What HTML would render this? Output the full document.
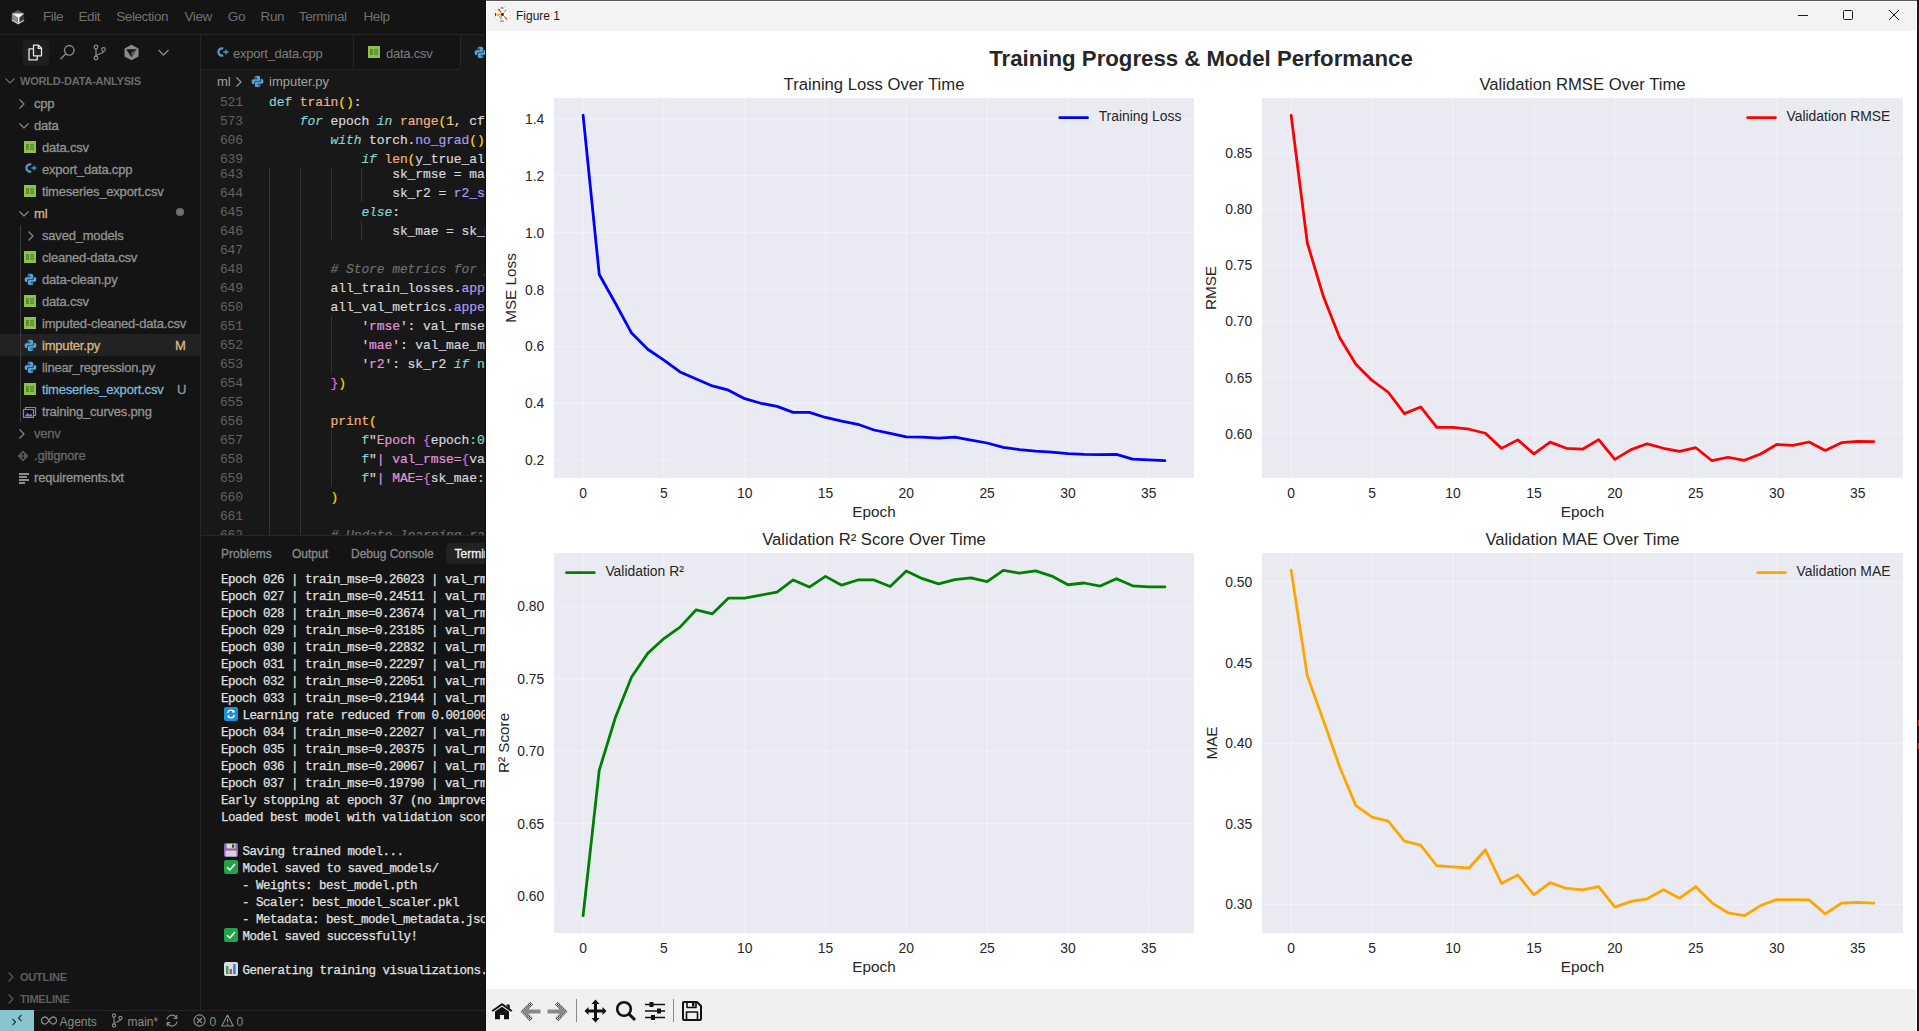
<!DOCTYPE html>
<html><head><meta charset="utf-8"><title>Figure 1</title><style>
*{box-sizing:content-box}
html,body{margin:0;padding:0}
body{width:1919px;height:1031px;overflow:hidden;position:relative;background:#141414;font-family:'Liberation Sans',sans-serif}
.abs{position:absolute}
.ic{position:absolute;overflow:visible}
.menu{position:absolute;top:8.4px;font-size:13.5px;letter-spacing:-0.4px;line-height:17px;color:#707070;white-space:nowrap}
.hdr{position:absolute;font-size:11px;font-weight:bold;line-height:14px;color:#6a6a6a;white-space:nowrap;letter-spacing:-0.2px}
.tree{position:absolute;font-size:13px;letter-spacing:-0.2px;-webkit-text-stroke:0.3px;line-height:22px;white-space:nowrap}
.tab{position:absolute;top:45px;font-size:13px;letter-spacing:-0.25px;line-height:17px;color:#7d7d7d;white-space:nowrap}
.crumb{position:absolute;top:72.5px;font-size:13px;letter-spacing:0px;line-height:18px;color:#a0a0a0;white-space:nowrap}
.ln{position:absolute;left:201px;width:42px;text-align:right;font-family:'Liberation Mono',monospace;font-size:13px;line-height:19px;color:#626262;letter-spacing:-0.1px}
.code{position:absolute;font-family:'Liberation Mono',monospace;font-size:13px;line-height:19px;white-space:pre;letter-spacing:-0.1px;-webkit-text-stroke:0.2px}
.ptab{position:absolute;top:546px;font-size:12px;line-height:17px;color:#8a8a8a;white-space:nowrap;-webkit-text-stroke:0.3px}
.term{position:absolute;font-family:'Liberation Mono',monospace;font-size:12.5px;line-height:17px;color:#e0e0e0;white-space:pre;letter-spacing:-0.5px;-webkit-text-stroke:0.25px}
.sb{position:absolute;top:1013.5px;font-size:12px;line-height:16px;color:#8b8b8b;white-space:nowrap}
</style></head>
<body>
<div class="abs" style="left:0;top:0;width:485px;height:34px;background:#141414"></div>
<div class="abs" style="left:0;top:34px;width:485px;height:1px;background:#262626"></div>
<svg class="ic" style="left:6px;top:5px" width="24" height="24" viewBox="0 0 24 24"><path d="M11.6 4.9 L18.1 8.4 L12.6 11.8 L5.8 8.4 Z" fill="#5e5e5e"/><path d="M5.8 8.4 L12.6 11.8 L12.4 18.8 L5.8 15.3 Z" fill="#8c8c8c"/><path d="M18.1 8.4 L18.1 15.3 L12.4 18.8 L12.6 11.8 Z" fill="#3a3a3a"/><path d="M5.8 8.4 L18.1 8.4 L13.4 12.6 L13.4 18.5 L12 18.7 L12 12.4 Z" fill="#f2f2f2"/><path d="M5.8 15.3 L12.2 18.8 L18.1 15.3" fill="none" stroke="#c8c8c8" stroke-width="1.2"/></svg>
<div class="menu" style="left:43px">File</div>
<div class="menu" style="left:78.5px">Edit</div>
<div class="menu" style="left:116.2px">Selection</div>
<div class="menu" style="left:184.5px">View</div>
<div class="menu" style="left:227.8px">Go</div>
<div class="menu" style="left:260.6px">Run</div>
<div class="menu" style="left:298.8px">Terminal</div>
<div class="menu" style="left:363.5px">Help</div>
<div class="abs" style="left:200px;top:35px;width:1px;height:975px;background:#262626"></div>
<div class="abs" style="left:23px;top:40px;width:26px;height:26px;background:#1f1f1f;border-radius:4px"></div>
<svg class="ic" style="left:27px;top:44px" width="17" height="17" viewBox="0 0 17 17" fill="none" stroke="#e6e6e6" stroke-width="1.3"><path d="M6.5 1.2 H11.5 L14.5 4.2 V11.8 H6.5 Z"/><path d="M11.3 1.2 V4.4 H14.5"/><path d="M6.5 4.8 H2 V15.8 H10.2 V11.8"/></svg>
<svg class="ic" style="left:59px;top:44px" width="17" height="17" viewBox="0 0 17 17" fill="none" stroke="#8b8b8b" stroke-width="1.3"><circle cx="10.3" cy="6.3" r="4.8"/><path d="M6.8 9.8 L1.5 15.3"/></svg>
<svg class="ic" style="left:92px;top:44px" width="15" height="17" viewBox="0 0 15 17" fill="none" stroke="#8b8b8b" stroke-width="1.2"><circle cx="4" cy="3" r="1.8"/><circle cx="4" cy="14" r="1.8"/><circle cx="11.5" cy="5.5" r="1.8"/><path d="M4 4.8 V12.2"/><path d="M11.5 7.3 C11.5 10 4.5 9.5 4 12.2"/></svg>
<svg class="ic" style="left:123px;top:44px" width="17" height="17" viewBox="0 0 17 17"><path d="M8.5 0.8 L15.5 4.6 V12.4 L8.5 16.2 L1.5 12.4 V4.6 Z" fill="#8b8b8b"/><path d="M3.2 5.2 L13.8 5.2 L8.5 13.6 Z" fill="#141414"/><path d="M8.5 8.2 L13.8 5.2 L8.5 13.6 Z" fill="#5a5a5a"/></svg>
<svg class="ic" style="left:157px;top:48px" width="13" height="9" viewBox="0 0 13 9"><path d="M1.5 2 L6.5 7 L11.5 2" fill="none" stroke="#8b8b8b" stroke-width="1.2"/></svg>
<svg class="ic" style="left:2px;top:76px" width="16" height="10" viewBox="0 0 16 10"><path d="M3.5 2.5 L8 7 L12.5 2.5" fill="none" stroke="#6e6e6e" stroke-width="1.1"/></svg>
<div class="hdr" style="left:20px;top:74px">WORLD-DATA-ANLYSIS</div>
<div class="abs" style="left:0;top:334px;width:200px;height:22px;background:#222222"></div>
<div class="abs" style="left:20px;top:225px;width:1px;height:197px;background:#3a3a3a"></div>
<svg class="ic" style="left:17px;top:95.6px" width="10" height="16" viewBox="0 0 10 16"><path d="M2.5 3.5 L7 8 L2.5 12.5" fill="none" stroke="#8b8b8b" stroke-width="1.1"/></svg>
<div class="tree" style="left:34px;top:92.6px;color:#939393">cpp</div>
<svg class="ic" style="left:16px;top:120.6px" width="16" height="10" viewBox="0 0 16 10"><path d="M3.5 2.5 L8 7 L12.5 2.5" fill="none" stroke="#8b8b8b" stroke-width="1.1"/></svg>
<div class="tree" style="left:34px;top:114.6px;color:#939393">data</div>
<svg class="ic" style="left:24px;top:140.79999999999998px" width="12" height="12" viewBox="0 0 12 12"><rect width="12" height="12" fill="#8dc149"/><rect x="2" y="3" width="3" height="6" fill="#5f8f2f"/><rect x="6" y="3" width="4" height="1.6" fill="#5f8f2f"/><rect x="6" y="5.2" width="4" height="1.6" fill="#5f8f2f"/><rect x="6" y="7.4" width="4" height="1.6" fill="#5f8f2f"/></svg>
<div class="tree" style="left:42px;top:136.6px;color:#939393">data.csv</div>
<svg class="ic" style="left:24px;top:162.4px" width="13" height="12" viewBox="0 0 13 12"><path d="M7.2 2.6 A3.6 3.6 0 1 0 7.2 9.4" fill="none" stroke="#519aba" stroke-width="2.4"/><path d="M7.4 6 H12.6 M10 3.6 V8.4" stroke="#519aba" stroke-width="1.3"/></svg>
<div class="tree" style="left:42px;top:158.6px;color:#939393">export_data.cpp</div>
<svg class="ic" style="left:24px;top:184.79999999999998px" width="12" height="12" viewBox="0 0 12 12"><rect width="12" height="12" fill="#8dc149"/><rect x="2" y="3" width="3" height="6" fill="#5f8f2f"/><rect x="6" y="3" width="4" height="1.6" fill="#5f8f2f"/><rect x="6" y="5.2" width="4" height="1.6" fill="#5f8f2f"/><rect x="6" y="7.4" width="4" height="1.6" fill="#5f8f2f"/></svg>
<div class="tree" style="left:42px;top:180.6px;color:#939393">timeseries_export.csv</div>
<svg class="ic" style="left:16px;top:208.6px" width="16" height="10" viewBox="0 0 16 10"><path d="M3.5 2.5 L8 7 L12.5 2.5" fill="none" stroke="#8b8b8b" stroke-width="1.1"/></svg>
<div class="tree" style="left:34px;top:202.6px;color:#d9b683">ml</div>
<svg class="ic" style="left:175px;top:207.0px" width="10" height="10" viewBox="0 0 10 10"><circle cx="5" cy="5" r="4.1" fill="#6b6b6b"/><circle cx="4.4" cy="4.5" r="0.7" fill="#c07a10"/><circle cx="6.4" cy="4.5" r="0.7" fill="#c07a10"/><circle cx="4.4" cy="6.5" r="0.7" fill="#c07a10"/><circle cx="7.4" cy="6.5" r="0.7" fill="#c07a10"/></svg>
<svg class="ic" style="left:26px;top:227.6px" width="10" height="16" viewBox="0 0 10 16"><path d="M2.5 3.5 L7 8 L2.5 12.5" fill="none" stroke="#8b8b8b" stroke-width="1.1"/></svg>
<div class="tree" style="left:42px;top:224.6px;color:#939393">saved_models</div>
<svg class="ic" style="left:24px;top:250.8px" width="12" height="12" viewBox="0 0 12 12"><rect width="12" height="12" fill="#8dc149"/><rect x="2" y="3" width="3" height="6" fill="#5f8f2f"/><rect x="6" y="3" width="4" height="1.6" fill="#5f8f2f"/><rect x="6" y="5.2" width="4" height="1.6" fill="#5f8f2f"/><rect x="6" y="7.4" width="4" height="1.6" fill="#5f8f2f"/></svg>
<div class="tree" style="left:42px;top:246.60000000000002px;color:#939393">cleaned-data.csv</div>
<svg class="ic" style="left:23.5px;top:273.1px" width="13" height="13" viewBox="0 0 13 13"><path d="M6.2 0.8 C3.6 0.8 3.7 1.9 3.7 1.9 V3.6 H6.4 V4.2 H2.4 C2.4 4.2 0.6 4 0.6 6.6 C0.6 9.2 2.2 9.1 2.2 9.1 H3.2 V7.8 C3.2 7.8 3.1 6.2 4.8 6.2 H7.6 C7.6 6.2 9.2 6.2 9.2 4.7 V2.2 C9.2 2.2 9.4 0.8 6.2 0.8 Z" fill="#58a2d6"/><path d="M6.8 12.2 C9.4 12.2 9.3 11.1 9.3 11.1 V9.4 H6.6 V8.8 H10.6 C10.6 8.8 12.4 9 12.4 6.4 C12.4 3.8 10.8 3.9 10.8 3.9 H9.8 V5.2 C9.8 5.2 9.9 6.8 8.2 6.8 H5.4 C5.4 6.8 3.8 6.8 3.8 8.3 V10.8 C3.8 10.8 3.6 12.2 6.8 12.2 Z" fill="#58a2d6"/><circle cx="5" cy="2.2" r="0.6" fill="#141414"/><circle cx="8" cy="10.8" r="0.6" fill="#141414"/></svg>
<div class="tree" style="left:42px;top:268.6px;color:#939393">data-clean.py</div>
<svg class="ic" style="left:24px;top:294.8px" width="12" height="12" viewBox="0 0 12 12"><rect width="12" height="12" fill="#8dc149"/><rect x="2" y="3" width="3" height="6" fill="#5f8f2f"/><rect x="6" y="3" width="4" height="1.6" fill="#5f8f2f"/><rect x="6" y="5.2" width="4" height="1.6" fill="#5f8f2f"/><rect x="6" y="7.4" width="4" height="1.6" fill="#5f8f2f"/></svg>
<div class="tree" style="left:42px;top:290.6px;color:#939393">data.csv</div>
<svg class="ic" style="left:24px;top:316.8px" width="12" height="12" viewBox="0 0 12 12"><rect width="12" height="12" fill="#8dc149"/><rect x="2" y="3" width="3" height="6" fill="#5f8f2f"/><rect x="6" y="3" width="4" height="1.6" fill="#5f8f2f"/><rect x="6" y="5.2" width="4" height="1.6" fill="#5f8f2f"/><rect x="6" y="7.4" width="4" height="1.6" fill="#5f8f2f"/></svg>
<div class="tree" style="left:42px;top:312.6px;color:#939393">imputed-cleaned-data.csv</div>
<svg class="ic" style="left:23.5px;top:339.1px" width="13" height="13" viewBox="0 0 13 13"><path d="M6.2 0.8 C3.6 0.8 3.7 1.9 3.7 1.9 V3.6 H6.4 V4.2 H2.4 C2.4 4.2 0.6 4 0.6 6.6 C0.6 9.2 2.2 9.1 2.2 9.1 H3.2 V7.8 C3.2 7.8 3.1 6.2 4.8 6.2 H7.6 C7.6 6.2 9.2 6.2 9.2 4.7 V2.2 C9.2 2.2 9.4 0.8 6.2 0.8 Z" fill="#58a2d6"/><path d="M6.8 12.2 C9.4 12.2 9.3 11.1 9.3 11.1 V9.4 H6.6 V8.8 H10.6 C10.6 8.8 12.4 9 12.4 6.4 C12.4 3.8 10.8 3.9 10.8 3.9 H9.8 V5.2 C9.8 5.2 9.9 6.8 8.2 6.8 H5.4 C5.4 6.8 3.8 6.8 3.8 8.3 V10.8 C3.8 10.8 3.6 12.2 6.8 12.2 Z" fill="#58a2d6"/><circle cx="5" cy="2.2" r="0.6" fill="#141414"/><circle cx="8" cy="10.8" r="0.6" fill="#141414"/></svg>
<div class="tree" style="left:42px;top:334.6px;color:#d9b683">imputer.py</div>
<div class="tree" style="left:175px;top:334.6px;color:#d9b683">M</div>
<svg class="ic" style="left:23.5px;top:361.1px" width="13" height="13" viewBox="0 0 13 13"><path d="M6.2 0.8 C3.6 0.8 3.7 1.9 3.7 1.9 V3.6 H6.4 V4.2 H2.4 C2.4 4.2 0.6 4 0.6 6.6 C0.6 9.2 2.2 9.1 2.2 9.1 H3.2 V7.8 C3.2 7.8 3.1 6.2 4.8 6.2 H7.6 C7.6 6.2 9.2 6.2 9.2 4.7 V2.2 C9.2 2.2 9.4 0.8 6.2 0.8 Z" fill="#58a2d6"/><path d="M6.8 12.2 C9.4 12.2 9.3 11.1 9.3 11.1 V9.4 H6.6 V8.8 H10.6 C10.6 8.8 12.4 9 12.4 6.4 C12.4 3.8 10.8 3.9 10.8 3.9 H9.8 V5.2 C9.8 5.2 9.9 6.8 8.2 6.8 H5.4 C5.4 6.8 3.8 6.8 3.8 8.3 V10.8 C3.8 10.8 3.6 12.2 6.8 12.2 Z" fill="#58a2d6"/><circle cx="5" cy="2.2" r="0.6" fill="#141414"/><circle cx="8" cy="10.8" r="0.6" fill="#141414"/></svg>
<div class="tree" style="left:42px;top:356.6px;color:#939393">linear_regression.py</div>
<svg class="ic" style="left:24px;top:382.8px" width="12" height="12" viewBox="0 0 12 12"><rect width="12" height="12" fill="#8dc149"/><rect x="2" y="3" width="3" height="6" fill="#5f8f2f"/><rect x="6" y="3" width="4" height="1.6" fill="#5f8f2f"/><rect x="6" y="5.2" width="4" height="1.6" fill="#5f8f2f"/><rect x="6" y="7.4" width="4" height="1.6" fill="#5f8f2f"/></svg>
<div class="tree" style="left:42px;top:378.6px;color:#7cb8d6">timeseries_export.csv</div>
<div class="tree" style="left:177px;top:378.6px;color:#8e9aa3">U</div>
<svg class="ic" style="left:23px;top:405.6px" width="13" height="12" viewBox="0 0 13 12"><rect x="2.5" y="1.5" width="10" height="8" fill="none" stroke="#a074c4" stroke-width="1.2"/><rect x="0.5" y="3.5" width="10" height="8" fill="#141414" stroke="#a074c4" stroke-width="1.2"/><path d="M1.5 10.5 L4.5 7 L6.5 9 L8 7.5 L9.8 10.5 Z" fill="#a074c4"/></svg>
<div class="tree" style="left:42px;top:400.6px;color:#939393">training_curves.png</div>
<svg class="ic" style="left:17px;top:425.6px" width="10" height="16" viewBox="0 0 10 16"><path d="M2.5 3.5 L7 8 L2.5 12.5" fill="none" stroke="#8b8b8b" stroke-width="1.1"/></svg>
<div class="tree" style="left:34px;top:422.6px;color:#676767">venv</div>
<svg class="ic" style="left:17px;top:449.6px" width="12" height="12" viewBox="0 0 12 12"><path d="M6 0.6 L11.4 6 L6 11.4 L0.6 6 Z" fill="#5a5a5a"/><circle cx="6" cy="4" r="1.1" fill="#141414"/><circle cx="6" cy="8" r="1.1" fill="#141414"/><path d="M6 4 V8" stroke="#141414" stroke-width="0.9"/></svg>
<div class="tree" style="left:34px;top:444.6px;color:#676767">.gitignore</div>
<svg class="ic" style="left:17.5px;top:471.6px" width="12" height="12" viewBox="0 0 12 12"><path d="M1 2 H11 M1 5 H9 M1 8 H11 M1 11 H7" stroke="#b8b8b8" stroke-width="1.5"/></svg>
<div class="tree" style="left:34px;top:466.6px;color:#939393">requirements.txt</div>
<svg class="ic" style="left:6px;top:969px" width="10" height="16" viewBox="0 0 10 16"><path d="M2.5 3.5 L7 8 L2.5 12.5" fill="none" stroke="#5e5e5e" stroke-width="1.1"/></svg>
<div class="hdr" style="left:20px;top:970px;color:#5e5e5e">OUTLINE</div>
<svg class="ic" style="left:6px;top:991px" width="10" height="16" viewBox="0 0 10 16"><path d="M2.5 3.5 L7 8 L2.5 12.5" fill="none" stroke="#5e5e5e" stroke-width="1.1"/></svg>
<div class="hdr" style="left:20px;top:992px;color:#5e5e5e">TIMELINE</div>
<div class="abs" style="left:201px;top:35px;width:284px;height:34px;background:#141414"></div>
<div class="abs" style="left:201px;top:69px;width:259px;height:1px;background:#262626"></div>
<div class="abs" style="left:353px;top:35px;width:1px;height:34px;background:#262626"></div>
<div class="abs" style="left:460px;top:35px;width:1px;height:34px;background:#262626"></div>
<div class="abs" style="left:461px;top:35px;width:24px;height:35px;background:#181818"></div>
<svg class="ic" style="left:216px;top:46px" width="13" height="12" viewBox="0 0 13 12"><path d="M7.2 2.6 A3.6 3.6 0 1 0 7.2 9.4" fill="none" stroke="#519aba" stroke-width="2.4"/><path d="M7.4 6 H12.6 M10 3.6 V8.4" stroke="#519aba" stroke-width="1.3"/></svg>
<div class="tab" style="left:233px">export_data.cpp</div>
<svg class="ic" style="left:368px;top:46px" width="12" height="12" viewBox="0 0 12 12"><rect width="12" height="12" fill="#8dc149"/><rect x="2" y="3" width="3" height="6" fill="#5f8f2f"/><rect x="6" y="3" width="4" height="1.6" fill="#5f8f2f"/><rect x="6" y="5.2" width="4" height="1.6" fill="#5f8f2f"/><rect x="6" y="7.4" width="4" height="1.6" fill="#5f8f2f"/></svg>
<div class="tab" style="left:386px">data.csv</div>
<svg class="ic" style="left:474px;top:45.5px" width="13" height="13" viewBox="0 0 13 13"><path d="M6.2 0.8 C3.6 0.8 3.7 1.9 3.7 1.9 V3.6 H6.4 V4.2 H2.4 C2.4 4.2 0.6 4 0.6 6.6 C0.6 9.2 2.2 9.1 2.2 9.1 H3.2 V7.8 C3.2 7.8 3.1 6.2 4.8 6.2 H7.6 C7.6 6.2 9.2 6.2 9.2 4.7 V2.2 C9.2 2.2 9.4 0.8 6.2 0.8 Z" fill="#58a2d6"/><path d="M6.8 12.2 C9.4 12.2 9.3 11.1 9.3 11.1 V9.4 H6.6 V8.8 H10.6 C10.6 8.8 12.4 9 12.4 6.4 C12.4 3.8 10.8 3.9 10.8 3.9 H9.8 V5.2 C9.8 5.2 9.9 6.8 8.2 6.8 H5.4 C5.4 6.8 3.8 6.8 3.8 8.3 V10.8 C3.8 10.8 3.6 12.2 6.8 12.2 Z" fill="#58a2d6"/><circle cx="5" cy="2.2" r="0.6" fill="#141414"/><circle cx="8" cy="10.8" r="0.6" fill="#141414"/></svg>
<div class="abs" style="left:201px;top:70px;width:284px;height:465px;background:#181818"></div>
<div class="crumb" style="left:217px">ml</div>
<svg class="ic" style="left:234px;top:73.5px" width="10" height="16" viewBox="0 0 10 16"><path d="M2.5 3.5 L7 8 L2.5 12.5" fill="none" stroke="#9a9a9a" stroke-width="1.1"/></svg>
<svg class="ic" style="left:251px;top:75px" width="13" height="13" viewBox="0 0 13 13"><path d="M6.2 0.8 C3.6 0.8 3.7 1.9 3.7 1.9 V3.6 H6.4 V4.2 H2.4 C2.4 4.2 0.6 4 0.6 6.6 C0.6 9.2 2.2 9.1 2.2 9.1 H3.2 V7.8 C3.2 7.8 3.1 6.2 4.8 6.2 H7.6 C7.6 6.2 9.2 6.2 9.2 4.7 V2.2 C9.2 2.2 9.4 0.8 6.2 0.8 Z" fill="#58a2d6"/><path d="M6.8 12.2 C9.4 12.2 9.3 11.1 9.3 11.1 V9.4 H6.6 V8.8 H10.6 C10.6 8.8 12.4 9 12.4 6.4 C12.4 3.8 10.8 3.9 10.8 3.9 H9.8 V5.2 C9.8 5.2 9.9 6.8 8.2 6.8 H5.4 C5.4 6.8 3.8 6.8 3.8 8.3 V10.8 C3.8 10.8 3.6 12.2 6.8 12.2 Z" fill="#58a2d6"/><circle cx="5" cy="2.2" r="0.6" fill="#141414"/><circle cx="8" cy="10.8" r="0.6" fill="#141414"/></svg>
<div class="crumb" style="left:269px">imputer.py</div>
<div class="abs" style="left:269px;top:168px;width:1px;height:367px;background:#333333"></div>
<div class="abs" style="left:300px;top:168px;width:1px;height:367px;background:#333333"></div>
<div class="abs" style="left:331px;top:168px;width:1px;height:72px;background:#333333"></div>
<div class="abs" style="left:361px;top:168px;width:1px;height:34px;background:#333333"></div>
<div class="abs" style="left:361px;top:221px;width:1px;height:19px;background:#333333"></div>
<div class="abs" style="left:331px;top:316px;width:1px;height:57px;background:#333333"></div>
<div class="abs" style="left:331px;top:430px;width:1px;height:57px;background:#333333"></div>
<div class="ln" style="top:165.0px">643</div>
<div class="code" style="left:392.2px;top:165.0px"><span style="color:#d6d6dd">sk_rmse</span><span style="color:#d6d6dd"> = </span><span style="color:#d6d6dd">math.sqrt(mean_squared_error</span></div>
<div class="ln" style="top:184.0px">644</div>
<div class="code" style="left:392.2px;top:184.0px"><span style="color:#d6d6dd">sk_r2</span><span style="color:#d6d6dd"> = </span><span style="color:#aa9bf5">r2_score</span><span style="color:#da70d6">(</span></div>
<div class="ln" style="top:203.0px">645</div>
<div class="code" style="left:361.4px;top:203.0px"><span style="color:#82d2ce;font-style:italic">else</span><span style="color:#d6d6dd">:</span></div>
<div class="ln" style="top:222.0px">646</div>
<div class="code" style="left:392.2px;top:222.0px"><span style="color:#d6d6dd">sk_mae</span><span style="color:#d6d6dd"> = </span><span style="color:#d6d6dd">sk_mae_fallback</span></div>
<div class="ln" style="top:241.0px">647</div>
<div class="code" style="left:269.0px;top:241.0px"></div>
<div class="ln" style="top:260.0px">648</div>
<div class="code" style="left:330.6px;top:260.0px"><span style="color:#6d6d6d;font-style:italic"># Store metrics for plotting</span></div>
<div class="ln" style="top:279.0px">649</div>
<div class="code" style="left:330.6px;top:279.0px"><span style="color:#d6d6dd">all_train_losses.</span><span style="color:#aa9bf5">append</span><span style="color:#ffd700">(</span></div>
<div class="ln" style="top:298.0px">650</div>
<div class="code" style="left:330.6px;top:298.0px"><span style="color:#d6d6dd">all_val_metrics.</span><span style="color:#aa9bf5">append</span><span style="color:#ffd700">(</span><span style="color:#da70d6">{</span></div>
<div class="ln" style="top:317.0px">651</div>
<div class="code" style="left:361.4px;top:317.0px"><span style="color:#d6d6dd">&#x27;</span><span style="color:#e394dc">rmse</span><span style="color:#d6d6dd">&#x27;</span><span style="color:#d6d6dd">: val_rmse,</span></div>
<div class="ln" style="top:336.0px">652</div>
<div class="code" style="left:361.4px;top:336.0px"><span style="color:#d6d6dd">&#x27;</span><span style="color:#e394dc">mae</span><span style="color:#d6d6dd">&#x27;</span><span style="color:#d6d6dd">: val_mae_mean,</span></div>
<div class="ln" style="top:355.0px">653</div>
<div class="code" style="left:361.4px;top:355.0px"><span style="color:#d6d6dd">&#x27;</span><span style="color:#e394dc">r2</span><span style="color:#d6d6dd">&#x27;</span><span style="color:#d6d6dd">: sk_r2 </span><span style="color:#82d2ce;font-style:italic">if</span><span style="color:#83d6c5"> np</span></div>
<div class="ln" style="top:374.0px">654</div>
<div class="code" style="left:330.6px;top:374.0px"><span style="color:#da70d6">}</span><span style="color:#ffd700">)</span></div>
<div class="ln" style="top:393.0px">655</div>
<div class="code" style="left:269.0px;top:393.0px"></div>
<div class="ln" style="top:412.0px">656</div>
<div class="code" style="left:330.6px;top:412.0px"><span style="color:#efb080">print</span><span style="color:#ffd700">(</span></div>
<div class="ln" style="top:431.0px">657</div>
<div class="code" style="left:361.4px;top:431.0px"><span style="color:#82d2ce">f</span><span style="color:#d6d6dd">&quot;</span><span style="color:#e394dc">Epoch </span><span style="color:#da70d6">{</span><span style="color:#d6d6dd">epoch</span><span style="color:#83d6c5">:03d</span></div>
<div class="ln" style="top:450.0px">658</div>
<div class="code" style="left:361.4px;top:450.0px"><span style="color:#82d2ce">f</span><span style="color:#d6d6dd">&quot;</span><span style="color:#e394dc">| val_rmse=</span><span style="color:#da70d6">{</span><span style="color:#d6d6dd">val_rmse</span></div>
<div class="ln" style="top:469.0px">659</div>
<div class="code" style="left:361.4px;top:469.0px"><span style="color:#82d2ce">f</span><span style="color:#d6d6dd">&quot;</span><span style="color:#e394dc">| MAE=</span><span style="color:#da70d6">{</span><span style="color:#d6d6dd">sk_mae</span><span style="color:#83d6c5">:.4f</span></div>
<div class="ln" style="top:488.0px">660</div>
<div class="code" style="left:330.6px;top:488.0px"><span style="color:#ffd700">)</span></div>
<div class="ln" style="top:507.0px">661</div>
<div class="code" style="left:269.0px;top:507.0px"></div>
<div class="ln" style="top:526.0px">662</div>
<div class="code" style="left:330.6px;top:526.0px"><span style="color:#6d6d6d;font-style:italic"># Update learning rate</span></div>
<div class="abs" style="left:201px;top:92px;width:284px;height:76px;background:#181818"></div>
<div class="ln" style="top:93.0px">521</div>
<div class="code" style="left:269.0px;top:93.0px"><span style="color:#82d2ce">def</span><span style="color:#d6d6dd"> </span><span style="color:#efb080">train</span><span style="color:#ffd700">()</span><span style="color:#d6d6dd">:</span></div>
<div class="ln" style="top:112.0px">573</div>
<div class="code" style="left:299.8px;top:112.0px"><span style="color:#82d2ce;font-style:italic">for</span><span style="color:#d6d6dd"> epoch </span><span style="color:#82d2ce;font-style:italic">in</span><span style="color:#d6d6dd"> </span><span style="color:#efb080">range</span><span style="color:#ffd700">(</span><span style="color:#ebc88d">1</span><span style="color:#d6d6dd">, cfg.epochs</span></div>
<div class="ln" style="top:131.0px">606</div>
<div class="code" style="left:330.6px;top:131.0px"><span style="color:#82d2ce;font-style:italic">with</span><span style="color:#d6d6dd"> torch.</span><span style="color:#aa9bf5">no_grad</span><span style="color:#ffd700">()</span><span style="color:#d6d6dd">:</span></div>
<div class="ln" style="top:150.0px">639</div>
<div class="code" style="left:361.4px;top:150.0px"><span style="color:#82d2ce;font-style:italic">if</span><span style="color:#d6d6dd"> </span><span style="color:#efb080">len</span><span style="color:#ffd700">(</span><span style="color:#d6d6dd">y_true_all</span></div>
<div class="abs" style="left:201px;top:535px;width:284px;height:1px;background:#262626"></div>
<div class="abs" style="left:201px;top:536px;width:284px;height:474px;background:#141414"></div>
<div class="abs" style="left:446px;top:543px;width:50px;height:21px;background:#222222;border-radius:5px"></div>
<div class="ptab" style="left:221px">Problems</div>
<div class="ptab" style="left:292px">Output</div>
<div class="ptab" style="left:351px">Debug Console</div>
<div class="ptab" style="left:454.5px;color:#f0f0f0">Terminal</div>
<div class="term" style="left:221px;top:571.5px">Epoch 026 | train_mse=0.26023 | val_rmse=0.58730</div>
<div class="term" style="left:221px;top:588.5px">Epoch 027 | train_mse=0.24511 | val_rmse=0.57570</div>
<div class="term" style="left:221px;top:605.5px">Epoch 028 | train_mse=0.23674 | val_rmse=0.57880</div>
<div class="term" style="left:221px;top:622.5px">Epoch 029 | train_mse=0.23185 | val_rmse=0.57610</div>
<div class="term" style="left:221px;top:639.5px">Epoch 030 | train_mse=0.22832 | val_rmse=0.58170</div>
<div class="term" style="left:221px;top:656.5px">Epoch 031 | train_mse=0.22297 | val_rmse=0.59020</div>
<div class="term" style="left:221px;top:673.5px">Epoch 032 | train_mse=0.22051 | val_rmse=0.58940</div>
<div class="term" style="left:221px;top:690.5px">Epoch 033 | train_mse=0.21944 | val_rmse=0.59240</div>
<svg class="ic" style="left:224px;top:707.4px" width="14" height="14" viewBox="0 0 14 14"><rect width="14" height="14" rx="2" fill="#1e8fd5"/><path d="M3.5 6 A3.6 3.6 0 0 1 10.2 5" fill="none" stroke="#fff" stroke-width="1.4"/><path d="M10.5 8 A3.6 3.6 0 0 1 3.8 9" fill="none" stroke="#fff" stroke-width="1.4"/><path d="M9 2.8 L11 5.4 L8 5.6 Z M5 11.2 L3 8.6 L6 8.4 Z" fill="#fff"/></svg>
<div class="term" style="left:242.5px;top:707.5px">Learning rate reduced from 0.001000 to 0.000500</div>
<div class="term" style="left:221px;top:724.5px">Epoch 034 | train_mse=0.22027 | val_rmse=0.58490</div>
<div class="term" style="left:221px;top:741.5px">Epoch 035 | train_mse=0.20375 | val_rmse=0.59180</div>
<div class="term" style="left:221px;top:758.5px">Epoch 036 | train_mse=0.20067 | val_rmse=0.59290</div>
<div class="term" style="left:221px;top:775.5px">Epoch 037 | train_mse=0.19790 | val_rmse=0.59280</div>
<div class="term" style="left:221px;top:792.5px">Early stopping at epoch 37 (no improvement)</div>
<div class="term" style="left:221px;top:809.5px">Loaded best model with validation score</div>
<div class="term" style="left:221px;top:826.5px"></div>
<svg class="ic" style="left:224px;top:843.4px" width="14" height="14" viewBox="0 0 14 14"><rect width="14" height="14" rx="2" fill="#8a68b8"/><rect x="2.5" y="1" width="9" height="4.5" fill="#d8d8dc"/><rect x="8" y="1.5" width="2.2" height="3.2" fill="#3a3a3a"/><rect x="1" y="5.8" width="12" height="1.6" fill="#e8485a"/><rect x="1.5" y="7.6" width="11" height="5.8" fill="#d4d4d8"/></svg>
<div class="term" style="left:242.5px;top:843.5px">Saving trained model...</div>
<svg class="ic" style="left:224px;top:860.4px" width="14" height="14" viewBox="0 0 14 14"><rect width="14" height="14" rx="2" fill="#21a347"/><path d="M3 7.2 L5.8 10 L11 4" fill="none" stroke="#fff" stroke-width="1.6"/></svg>
<div class="term" style="left:242.5px;top:860.5px">Model saved to saved_models/</div>
<div class="term" style="left:221px;top:877.5px">   - Weights: best_model.pth</div>
<div class="term" style="left:221px;top:894.5px">   - Scaler: best_model_scaler.pkl</div>
<div class="term" style="left:221px;top:911.5px">   - Metadata: best_model_metadata.json</div>
<svg class="ic" style="left:224px;top:928.4px" width="14" height="14" viewBox="0 0 14 14"><rect width="14" height="14" rx="2" fill="#21a347"/><path d="M3 7.2 L5.8 10 L11 4" fill="none" stroke="#fff" stroke-width="1.6"/></svg>
<div class="term" style="left:242.5px;top:928.5px">Model saved successfully!</div>
<div class="term" style="left:221px;top:945.5px"></div>
<svg class="ic" style="left:224px;top:962.4px" width="14" height="14" viewBox="0 0 14 14"><rect width="14" height="14" rx="2" fill="#d8dce4"/><rect x="2" y="4" width="2.4" height="8" fill="#2fa84f"/><rect x="5.6" y="7" width="2.4" height="5" fill="#e8384f"/><rect x="9.2" y="2" width="2.4" height="10" fill="#2b7de0"/></svg>
<div class="term" style="left:242.5px;top:962.5px">Generating training visualizations...</div>
<div class="abs" style="left:0;top:1010px;width:485px;height:1px;background:#262626"></div>
<div class="abs" style="left:0;top:1011px;width:485px;height:20px;background:#141414"></div>
<div class="abs" style="left:0;top:1010px;width:34px;height:21px;background:#89c5cf"></div>
<svg class="ic" style="left:11px;top:1014px" width="12" height="12" viewBox="0 0 12 12" fill="none" stroke="#2a3a40" stroke-width="1.2"><path d="M1.5 5 L4.5 8 L1.5 11"/><path d="M10.5 1 L7.5 4 L10.5 7"/></svg>
<svg class="ic" style="left:42px;top:1016px" width="14" height="9" viewBox="0 0 14 9" fill="none" stroke="#8b8b8b" stroke-width="1.3"><path d="M7 4.5 C5.5 2 4.5 1 3 1 A3.5 3.5 0 0 0 3 8 C4.5 8 5.5 7 7 4.5 C8.5 2 9.5 1 11 1 A3.5 3.5 0 0 1 11 8 C9.5 8 8.5 7 7 4.5 Z"/></svg>
<div class="sb" style="left:59.5px">Agents</div>
<svg class="ic" style="left:111px;top:1013px" width="12" height="15" viewBox="0 0 12 15" fill="none" stroke="#8b8b8b" stroke-width="1.1"><circle cx="3" cy="2.5" r="1.6"/><circle cx="3" cy="12.5" r="1.6"/><circle cx="9.5" cy="5" r="1.6"/><path d="M3 4.1 V10.9"/><path d="M9.5 6.6 C9.5 9 3.5 8.5 3 10.9"/></svg>
<div class="sb" style="left:127.5px">main*</div>
<svg class="ic" style="left:165px;top:1014px" width="14" height="13" viewBox="0 0 14 13" fill="none" stroke="#8b8b8b" stroke-width="1.2"><path d="M2 5.5 A5 5 0 0 1 11.5 4"/><path d="M12 7.5 A5 5 0 0 1 2.5 9"/><path d="M11.8 1 V4.3 H8.6"/><path d="M2.2 12 V8.7 H5.4"/></svg>
<svg class="ic" style="left:193px;top:1014px" width="13" height="13" viewBox="0 0 13 13" fill="none" stroke="#8b8b8b" stroke-width="1.1"><circle cx="6.5" cy="6.5" r="5.6"/><path d="M4 4 L9 9 M9 4 L4 9"/></svg>
<div class="sb" style="left:209.5px">0</div>
<svg class="ic" style="left:220.5px;top:1014px" width="13" height="13" viewBox="0 0 13 13" fill="none" stroke="#8b8b8b" stroke-width="1.1"><path d="M6.5 1 L12.2 12 H0.8 Z"/><path d="M6.5 4.8 V8.6 M6.5 9.8 V10.9"/></svg>
<div class="sb" style="left:236.5px">0</div>
<div class="abs" style="left:485px;top:0;width:1px;height:1031px;background:#101010"></div>
<div class="abs" style="left:1917px;top:0;width:2px;height:1031px;background:#1a1a1a"></div>
<div class="abs" style="left:486px;top:0;width:1431px;height:1px;background:#5a5a5a"></div>
<div class="abs" style="left:486px;top:1px;width:1431px;height:1030px;background:#ffffff"></div>
<div class="abs" style="left:487px;top:2px;width:1429px;height:29px;background:#f3f3f3"></div>
<svg class="ic" style="left:494px;top:6px" width="17" height="17" viewBox="0 0 17 17"><circle cx="8.5" cy="8.5" r="7.6" fill="#fff" stroke="#9a9a9a" stroke-width="0.6" stroke-dasharray="1.2 2.2"/><path d="M8.5 8.5 L3.5 3.5 L5.5 2.8 Z" fill="#ee3333"/><path d="M8.5 8.5 L2.2 7.5 L2.8 10.2 Z" fill="#ffa500"/><path d="M8.5 8.5 L11.5 3 L12.6 4.2 Z" fill="#7cbc3c"/><path d="M8.5 8.5 L5.8 12.8 L7.2 13.4 Z" fill="#4caf50"/><path d="M8.5 8.5 L13.5 13 L12.2 13.8 Z" fill="#dd2222"/><path d="M8.5 8.5 L4.5 11 L5 11.8 Z" fill="#2a8fd0"/><circle cx="8.5" cy="8.5" r="1.4" fill="#222"/><path d="M6.5 2 H9.5 M6.5 15 H9.5 M1.5 7 V10" stroke="#333" stroke-width="0.9"/></svg>
<div class="abs" style="left:516px;top:8px;font:12px 'Liberation Sans',sans-serif;color:#1a1a1a;line-height:16px">Figure 1</div>
<div class="abs" style="left:1798px;top:15px;width:10px;height:1px;background:#1a1a1a"></div>
<div class="abs" style="left:1843px;top:10px;width:8px;height:8px;border:1px solid #1a1a1a;border-radius:1.5px"></div>
<svg class="ic" style="left:1888px;top:9px" width="12" height="12" viewBox="0 0 12 12"><path d="M1 1 L11 11 M11 1 L1 11" stroke="#1a1a1a" stroke-width="1"/></svg>
<div class="abs" style="left:486px;top:31px;width:1430px;height:958px"><svg width="1430" height="958" viewBox="0 0 1029.6 689.76">
<defs>
<style type="text/css">*{stroke-linejoin: round; stroke-linecap: butt}</style>
</defs>
<g id="figure_1">
<g id="patch_1">
<path d="M 0 689.76 
L 1029.6 689.76 
L 1029.6 0 
L 0 0 
z
" style="fill: #ffffff"/>
</g>
<g id="axes_1">
<g id="patch_2">
<path d="M 48.96 321.84 
L 509.76 321.84 
L 509.76 48.24 
L 48.96 48.24 
z
" style="fill: #eaeaf2"/>
</g>
<g id="matplotlib.axis_1">
<g id="xtick_1">
<g id="line2d_1">
<path d="M 69.90 321.84 
L 69.90 48.24 
" clip-path="url(#p905140722b)" style="fill: none; stroke: #ffffff; stroke-opacity: 0.3; stroke-linecap: round"/>
</g>
<g id="line2d_2"/>
<g id="text_1">
<text style="font-size: 10px; font-family: 'Liberation Sans', sans-serif; text-anchor: middle; fill: #262626" x="69.90" y="336.08" transform="rotate(-0 69.90 336.08)">0</text>
</g>
</g>
<g id="xtick_2">
<g id="line2d_3">
<path d="M 128.08 321.84 
L 128.08 48.24 
" clip-path="url(#p905140722b)" style="fill: none; stroke: #ffffff; stroke-opacity: 0.3; stroke-linecap: round"/>
</g>
<g id="line2d_4"/>
<g id="text_2">
<text style="font-size: 10px; font-family: 'Liberation Sans', sans-serif; text-anchor: middle; fill: #262626" x="128.08" y="336.08" transform="rotate(-0 128.08 336.08)">5</text>
</g>
</g>
<g id="xtick_3">
<g id="line2d_5">
<path d="M 186.26 321.84 
L 186.26 48.24 
" clip-path="url(#p905140722b)" style="fill: none; stroke: #ffffff; stroke-opacity: 0.3; stroke-linecap: round"/>
</g>
<g id="line2d_6"/>
<g id="text_3">
<text style="font-size: 10px; font-family: 'Liberation Sans', sans-serif; text-anchor: middle; fill: #262626" x="186.26" y="336.08" transform="rotate(-0 186.26 336.08)">10</text>
</g>
</g>
<g id="xtick_4">
<g id="line2d_7">
<path d="M 244.45 321.84 
L 244.45 48.24 
" clip-path="url(#p905140722b)" style="fill: none; stroke: #ffffff; stroke-opacity: 0.3; stroke-linecap: round"/>
</g>
<g id="line2d_8"/>
<g id="text_4">
<text style="font-size: 10px; font-family: 'Liberation Sans', sans-serif; text-anchor: middle; fill: #262626" x="244.45" y="336.08" transform="rotate(-0 244.45 336.08)">15</text>
</g>
</g>
<g id="xtick_5">
<g id="line2d_9">
<path d="M 302.63 321.84 
L 302.63 48.24 
" clip-path="url(#p905140722b)" style="fill: none; stroke: #ffffff; stroke-opacity: 0.3; stroke-linecap: round"/>
</g>
<g id="line2d_10"/>
<g id="text_5">
<text style="font-size: 10px; font-family: 'Liberation Sans', sans-serif; text-anchor: middle; fill: #262626" x="302.63" y="336.08" transform="rotate(-0 302.63 336.08)">20</text>
</g>
</g>
<g id="xtick_6">
<g id="line2d_11">
<path d="M 360.81 321.84 
L 360.81 48.24 
" clip-path="url(#p905140722b)" style="fill: none; stroke: #ffffff; stroke-opacity: 0.3; stroke-linecap: round"/>
</g>
<g id="line2d_12"/>
<g id="text_6">
<text style="font-size: 10px; font-family: 'Liberation Sans', sans-serif; text-anchor: middle; fill: #262626" x="360.81" y="336.08" transform="rotate(-0 360.81 336.08)">25</text>
</g>
</g>
<g id="xtick_7">
<g id="line2d_13">
<path d="M 418.99 321.84 
L 418.99 48.24 
" clip-path="url(#p905140722b)" style="fill: none; stroke: #ffffff; stroke-opacity: 0.3; stroke-linecap: round"/>
</g>
<g id="line2d_14"/>
<g id="text_7">
<text style="font-size: 10px; font-family: 'Liberation Sans', sans-serif; text-anchor: middle; fill: #262626" x="418.99" y="336.08" transform="rotate(-0 418.99 336.08)">30</text>
</g>
</g>
<g id="xtick_8">
<g id="line2d_15">
<path d="M 477.17 321.84 
L 477.17 48.24 
" clip-path="url(#p905140722b)" style="fill: none; stroke: #ffffff; stroke-opacity: 0.3; stroke-linecap: round"/>
</g>
<g id="line2d_16"/>
<g id="text_8">
<text style="font-size: 10px; font-family: 'Liberation Sans', sans-serif; text-anchor: middle; fill: #262626" x="477.17" y="336.08" transform="rotate(-0 477.17 336.08)">35</text>
</g>
</g>
<g id="text_9">
<text style="font-size: 11px; font-family: 'Liberation Sans', sans-serif; text-anchor: middle; fill: #262626" x="279.36" y="350.13" transform="rotate(-0 279.36 350.13)">Epoch</text>
</g>
</g>
<g id="matplotlib.axis_2">
<g id="ytick_1">
<g id="line2d_17">
<path d="M 48.96 308.97 
L 509.76 308.97 
" clip-path="url(#p905140722b)" style="fill: none; stroke: #ffffff; stroke-opacity: 0.3; stroke-linecap: round"/>
</g>
<g id="line2d_18"/>
<g id="text_10">
<text style="font-size: 10px; font-family: 'Liberation Sans', sans-serif; text-anchor: end; fill: #262626" x="41.96" y="312.59" transform="rotate(-0 41.96 312.59)">0.2</text>
</g>
</g>
<g id="ytick_2">
<g id="line2d_19">
<path d="M 48.96 268.03 
L 509.76 268.03 
" clip-path="url(#p905140722b)" style="fill: none; stroke: #ffffff; stroke-opacity: 0.3; stroke-linecap: round"/>
</g>
<g id="line2d_20"/>
<g id="text_11">
<text style="font-size: 10px; font-family: 'Liberation Sans', sans-serif; text-anchor: end; fill: #262626" x="41.96" y="271.65" transform="rotate(-0 41.96 271.65)">0.4</text>
</g>
</g>
<g id="ytick_3">
<g id="line2d_21">
<path d="M 48.96 227.09 
L 509.76 227.09 
" clip-path="url(#p905140722b)" style="fill: none; stroke: #ffffff; stroke-opacity: 0.3; stroke-linecap: round"/>
</g>
<g id="line2d_22"/>
<g id="text_12">
<text style="font-size: 10px; font-family: 'Liberation Sans', sans-serif; text-anchor: end; fill: #262626" x="41.96" y="230.71" transform="rotate(-0 41.96 230.71)">0.6</text>
</g>
</g>
<g id="ytick_4">
<g id="line2d_23">
<path d="M 48.96 186.15 
L 509.76 186.15 
" clip-path="url(#p905140722b)" style="fill: none; stroke: #ffffff; stroke-opacity: 0.3; stroke-linecap: round"/>
</g>
<g id="line2d_24"/>
<g id="text_13">
<text style="font-size: 10px; font-family: 'Liberation Sans', sans-serif; text-anchor: end; fill: #262626" x="41.96" y="189.77" transform="rotate(-0 41.96 189.77)">0.8</text>
</g>
</g>
<g id="ytick_5">
<g id="line2d_25">
<path d="M 48.96 145.21 
L 509.76 145.21 
" clip-path="url(#p905140722b)" style="fill: none; stroke: #ffffff; stroke-opacity: 0.3; stroke-linecap: round"/>
</g>
<g id="line2d_26"/>
<g id="text_14">
<text style="font-size: 10px; font-family: 'Liberation Sans', sans-serif; text-anchor: end; fill: #262626" x="41.96" y="148.83" transform="rotate(-0 41.96 148.83)">1.0</text>
</g>
</g>
<g id="ytick_6">
<g id="line2d_27">
<path d="M 48.96 104.27 
L 509.76 104.27 
" clip-path="url(#p905140722b)" style="fill: none; stroke: #ffffff; stroke-opacity: 0.3; stroke-linecap: round"/>
</g>
<g id="line2d_28"/>
<g id="text_15">
<text style="font-size: 10px; font-family: 'Liberation Sans', sans-serif; text-anchor: end; fill: #262626" x="41.96" y="107.90" transform="rotate(-0 41.96 107.90)">1.2</text>
</g>
</g>
<g id="ytick_7">
<g id="line2d_29">
<path d="M 48.96 63.33 
L 509.76 63.33 
" clip-path="url(#p905140722b)" style="fill: none; stroke: #ffffff; stroke-opacity: 0.3; stroke-linecap: round"/>
</g>
<g id="line2d_30"/>
<g id="text_16">
<text style="font-size: 10px; font-family: 'Liberation Sans', sans-serif; text-anchor: end; fill: #262626" x="41.96" y="66.96" transform="rotate(-0 41.96 66.96)">1.4</text>
</g>
</g>
<g id="text_17">
<text style="font-size: 11px; font-family: 'Liberation Sans', sans-serif; text-anchor: middle; fill: #262626" x="21.77" y="185.04" transform="rotate(-90 21.77 185.04)">MSE Loss</text>
</g>
</g>
<g id="line2d_31">
<path d="M 69.90 60.67 
L 81.54 175.30 
L 93.17 195.98 
L 104.81 217.47 
L 116.45 229.14 
L 128.08 236.92 
L 139.72 245.51 
L 151.36 250.63 
L 162.99 255.54 
L 174.63 258.61 
L 186.26 264.75 
L 197.90 268.03 
L 209.54 270.28 
L 221.17 274.58 
L 232.81 274.58 
L 244.45 278.26 
L 256.08 280.93 
L 267.72 283.18 
L 279.36 287.27 
L 290.99 289.73 
L 302.63 292.18 
L 314.26 292.39 
L 325.90 293.21 
L 337.54 292.39 
L 349.17 294.64 
L 360.81 296.64 
L 372.45 299.73 
L 384.08 301.45 
L 395.72 302.45 
L 407.36 303.17 
L 418.99 304.27 
L 430.63 304.77 
L 442.26 304.99 
L 453.90 304.82 
L 465.54 308.20 
L 477.17 308.83 
L 488.81 309.40 
" clip-path="url(#p905140722b)" style="fill: none; stroke: #0000ff; stroke-width: 2; stroke-linecap: round"/>
</g>
<g id="patch_3">
<path d="M 48.96 321.84 
L 48.96 48.24 
" style="fill: none"/>
</g>
<g id="patch_4">
<path d="M 509.76 321.84 
L 509.76 48.24 
" style="fill: none"/>
</g>
<g id="patch_5">
<path d="M 48.96 321.84 
L 509.76 321.84 
" style="fill: none"/>
</g>
<g id="patch_6">
<path d="M 48.96 48.24 
L 509.76 48.24 
" style="fill: none"/>
</g>
<g id="text_18">
<text style="font-size: 12px; font-family: 'Liberation Sans', sans-serif; text-anchor: middle; fill: #262626" x="279.36" y="42.24" transform="rotate(-0 279.36 42.24)">Training Loss Over Time</text>
</g>
<g id="legend_1">
<g id="line2d_32">
<path d="M 413.11 62.38 
L 423.11 62.38 
L 433.11 62.38 
" style="fill: none; stroke: #0000ff; stroke-width: 2; stroke-linecap: round"/>
</g>
<g id="text_19">
<text style="font-size: 10px; font-family: 'Liberation Sans', sans-serif; text-anchor: start; fill: #262626" x="441.11" y="64.48" transform="rotate(-0 441.11 64.48)">Training Loss</text>
</g>
</g>
</g>
<g id="axes_2">
<g id="patch_7">
<path d="M 558.72 321.84 
L 1020.24 321.84 
L 1020.24 48.24 
L 558.72 48.24 
z
" style="fill: #eaeaf2"/>
</g>
<g id="matplotlib.axis_3">
<g id="xtick_9">
<g id="line2d_33">
<path d="M 579.69 321.84 
L 579.69 48.24 
" clip-path="url(#p9155a7c2ba)" style="fill: none; stroke: #ffffff; stroke-opacity: 0.3; stroke-linecap: round"/>
</g>
<g id="line2d_34"/>
<g id="text_20">
<text style="font-size: 10px; font-family: 'Liberation Sans', sans-serif; text-anchor: middle; fill: #262626" x="579.69" y="336.08" transform="rotate(-0 579.69 336.08)">0</text>
</g>
</g>
<g id="xtick_10">
<g id="line2d_35">
<path d="M 637.97 321.84 
L 637.97 48.24 
" clip-path="url(#p9155a7c2ba)" style="fill: none; stroke: #ffffff; stroke-opacity: 0.3; stroke-linecap: round"/>
</g>
<g id="line2d_36"/>
<g id="text_21">
<text style="font-size: 10px; font-family: 'Liberation Sans', sans-serif; text-anchor: middle; fill: #262626" x="637.97" y="336.08" transform="rotate(-0 637.97 336.08)">5</text>
</g>
</g>
<g id="xtick_11">
<g id="line2d_37">
<path d="M 696.24 321.84 
L 696.24 48.24 
" clip-path="url(#p9155a7c2ba)" style="fill: none; stroke: #ffffff; stroke-opacity: 0.3; stroke-linecap: round"/>
</g>
<g id="line2d_38"/>
<g id="text_22">
<text style="font-size: 10px; font-family: 'Liberation Sans', sans-serif; text-anchor: middle; fill: #262626" x="696.24" y="336.08" transform="rotate(-0 696.24 336.08)">10</text>
</g>
</g>
<g id="xtick_12">
<g id="line2d_39">
<path d="M 754.51 321.84 
L 754.51 48.24 
" clip-path="url(#p9155a7c2ba)" style="fill: none; stroke: #ffffff; stroke-opacity: 0.3; stroke-linecap: round"/>
</g>
<g id="line2d_40"/>
<g id="text_23">
<text style="font-size: 10px; font-family: 'Liberation Sans', sans-serif; text-anchor: middle; fill: #262626" x="754.51" y="336.08" transform="rotate(-0 754.51 336.08)">15</text>
</g>
</g>
<g id="xtick_13">
<g id="line2d_41">
<path d="M 812.78 321.84 
L 812.78 48.24 
" clip-path="url(#p9155a7c2ba)" style="fill: none; stroke: #ffffff; stroke-opacity: 0.3; stroke-linecap: round"/>
</g>
<g id="line2d_42"/>
<g id="text_24">
<text style="font-size: 10px; font-family: 'Liberation Sans', sans-serif; text-anchor: middle; fill: #262626" x="812.78" y="336.08" transform="rotate(-0 812.78 336.08)">20</text>
</g>
</g>
<g id="xtick_14">
<g id="line2d_43">
<path d="M 871.06 321.84 
L 871.06 48.24 
" clip-path="url(#p9155a7c2ba)" style="fill: none; stroke: #ffffff; stroke-opacity: 0.3; stroke-linecap: round"/>
</g>
<g id="line2d_44"/>
<g id="text_25">
<text style="font-size: 10px; font-family: 'Liberation Sans', sans-serif; text-anchor: middle; fill: #262626" x="871.06" y="336.08" transform="rotate(-0 871.06 336.08)">25</text>
</g>
</g>
<g id="xtick_15">
<g id="line2d_45">
<path d="M 929.33 321.84 
L 929.33 48.24 
" clip-path="url(#p9155a7c2ba)" style="fill: none; stroke: #ffffff; stroke-opacity: 0.3; stroke-linecap: round"/>
</g>
<g id="line2d_46"/>
<g id="text_26">
<text style="font-size: 10px; font-family: 'Liberation Sans', sans-serif; text-anchor: middle; fill: #262626" x="929.33" y="336.08" transform="rotate(-0 929.33 336.08)">30</text>
</g>
</g>
<g id="xtick_16">
<g id="line2d_47">
<path d="M 987.60 321.84 
L 987.60 48.24 
" clip-path="url(#p9155a7c2ba)" style="fill: none; stroke: #ffffff; stroke-opacity: 0.3; stroke-linecap: round"/>
</g>
<g id="line2d_48"/>
<g id="text_27">
<text style="font-size: 10px; font-family: 'Liberation Sans', sans-serif; text-anchor: middle; fill: #262626" x="987.60" y="336.08" transform="rotate(-0 987.60 336.08)">35</text>
</g>
</g>
<g id="text_28">
<text style="font-size: 11px; font-family: 'Liberation Sans', sans-serif; text-anchor: middle; fill: #262626" x="789.48" y="350.13" transform="rotate(-0 789.48 350.13)">Epoch</text>
</g>
</g>
<g id="matplotlib.axis_4">
<g id="ytick_8">
<g id="line2d_49">
<path d="M 558.72 289.79 
L 1020.24 289.79 
" clip-path="url(#p9155a7c2ba)" style="fill: none; stroke: #ffffff; stroke-opacity: 0.3; stroke-linecap: round"/>
</g>
<g id="line2d_50"/>
<g id="text_29">
<text style="font-size: 10px; font-family: 'Liberation Sans', sans-serif; text-anchor: end; fill: #262626" x="551.72" y="293.42" transform="rotate(-0 551.72 293.42)">0.60</text>
</g>
</g>
<g id="ytick_9">
<g id="line2d_51">
<path d="M 558.72 249.46 
L 1020.24 249.46 
" clip-path="url(#p9155a7c2ba)" style="fill: none; stroke: #ffffff; stroke-opacity: 0.3; stroke-linecap: round"/>
</g>
<g id="line2d_52"/>
<g id="text_30">
<text style="font-size: 10px; font-family: 'Liberation Sans', sans-serif; text-anchor: end; fill: #262626" x="551.72" y="253.08" transform="rotate(-0 551.72 253.08)">0.65</text>
</g>
</g>
<g id="ytick_10">
<g id="line2d_53">
<path d="M 558.72 209.12 
L 1020.24 209.12 
" clip-path="url(#p9155a7c2ba)" style="fill: none; stroke: #ffffff; stroke-opacity: 0.3; stroke-linecap: round"/>
</g>
<g id="line2d_54"/>
<g id="text_31">
<text style="font-size: 10px; font-family: 'Liberation Sans', sans-serif; text-anchor: end; fill: #262626" x="551.72" y="212.74" transform="rotate(-0 551.72 212.74)">0.70</text>
</g>
</g>
<g id="ytick_11">
<g id="line2d_55">
<path d="M 558.72 168.78 
L 1020.24 168.78 
" clip-path="url(#p9155a7c2ba)" style="fill: none; stroke: #ffffff; stroke-opacity: 0.3; stroke-linecap: round"/>
</g>
<g id="line2d_56"/>
<g id="text_32">
<text style="font-size: 10px; font-family: 'Liberation Sans', sans-serif; text-anchor: end; fill: #262626" x="551.72" y="172.40" transform="rotate(-0 551.72 172.40)">0.75</text>
</g>
</g>
<g id="ytick_12">
<g id="line2d_57">
<path d="M 558.72 128.44 
L 1020.24 128.44 
" clip-path="url(#p9155a7c2ba)" style="fill: none; stroke: #ffffff; stroke-opacity: 0.3; stroke-linecap: round"/>
</g>
<g id="line2d_58"/>
<g id="text_33">
<text style="font-size: 10px; font-family: 'Liberation Sans', sans-serif; text-anchor: end; fill: #262626" x="551.72" y="132.06" transform="rotate(-0 551.72 132.06)">0.80</text>
</g>
</g>
<g id="ytick_13">
<g id="line2d_59">
<path d="M 558.72 88.10 
L 1020.24 88.10 
" clip-path="url(#p9155a7c2ba)" style="fill: none; stroke: #ffffff; stroke-opacity: 0.3; stroke-linecap: round"/>
</g>
<g id="line2d_60"/>
<g id="text_34">
<text style="font-size: 10px; font-family: 'Liberation Sans', sans-serif; text-anchor: end; fill: #262626" x="551.72" y="91.72" transform="rotate(-0 551.72 91.72)">0.85</text>
</g>
</g>
<g id="text_35">
<text style="font-size: 11px; font-family: 'Liberation Sans', sans-serif; text-anchor: middle; fill: #262626" x="525.97" y="185.04" transform="rotate(-90 525.97 185.04)">RMSE</text>
</g>
</g>
<g id="line2d_61">
<path d="M 579.69 60.67 
L 591.35 152.64 
L 603.00 191.37 
L 614.66 220.82 
L 626.31 239.94 
L 637.97 251.63 
L 649.62 260.10 
L 661.28 275.51 
L 672.93 270.67 
L 684.58 285.36 
L 696.24 285.36 
L 707.89 286.73 
L 719.55 289.63 
L 731.20 300.52 
L 742.86 294.39 
L 754.51 304.48 
L 766.17 296.01 
L 777.82 300.44 
L 789.48 301.09 
L 801.13 294.23 
L 812.78 308.43 
L 824.44 301.41 
L 836.09 297.22 
L 847.75 300.44 
L 859.40 302.62 
L 871.06 300.04 
L 882.71 309.40 
L 894.37 306.90 
L 906.02 309.08 
L 917.68 304.56 
L 929.33 297.70 
L 940.98 298.35 
L 952.64 295.93 
L 964.29 301.98 
L 975.95 296.41 
L 987.60 295.52 
L 999.26 295.60 
" clip-path="url(#p9155a7c2ba)" style="fill: none; stroke: #ff0000; stroke-width: 2; stroke-linecap: round"/>
</g>
<g id="patch_8">
<path d="M 558.72 321.84 
L 558.72 48.24 
" style="fill: none"/>
</g>
<g id="patch_9">
<path d="M 1020.24 321.84 
L 1020.24 48.24 
" style="fill: none"/>
</g>
<g id="patch_10">
<path d="M 558.72 321.84 
L 1020.24 321.84 
" style="fill: none"/>
</g>
<g id="patch_11">
<path d="M 558.72 48.24 
L 1020.24 48.24 
" style="fill: none"/>
</g>
<g id="text_36">
<text style="font-size: 12px; font-family: 'Liberation Sans', sans-serif; text-anchor: middle; fill: #262626" x="789.48" y="42.24" transform="rotate(-0 789.48 42.24)">Validation RMSE Over Time</text>
</g>
<g id="legend_2">
<g id="line2d_62">
<path d="M 908.38 62.38 
L 918.38 62.38 
L 928.38 62.38 
" style="fill: none; stroke: #ff0000; stroke-width: 2; stroke-linecap: round"/>
</g>
<g id="text_37">
<text style="font-size: 10px; font-family: 'Liberation Sans', sans-serif; text-anchor: start; fill: #262626" x="936.38" y="64.48" transform="rotate(-0 936.38 64.48)">Validation RMSE</text>
</g>
</g>
</g>
<g id="axes_3">
<g id="patch_12">
<path d="M 48.96 649.44 
L 509.76 649.44 
L 509.76 375.84 
L 48.96 375.84 
z
" style="fill: #eaeaf2"/>
</g>
<g id="matplotlib.axis_5">
<g id="xtick_17">
<g id="line2d_63">
<path d="M 69.90 649.44 
L 69.90 375.84 
" clip-path="url(#p9e687ffb52)" style="fill: none; stroke: #ffffff; stroke-opacity: 0.3; stroke-linecap: round"/>
</g>
<g id="line2d_64"/>
<g id="text_38">
<text style="font-size: 10px; font-family: 'Liberation Sans', sans-serif; text-anchor: middle; fill: #262626" x="69.90" y="663.68" transform="rotate(-0 69.90 663.68)">0</text>
</g>
</g>
<g id="xtick_18">
<g id="line2d_65">
<path d="M 128.08 649.44 
L 128.08 375.84 
" clip-path="url(#p9e687ffb52)" style="fill: none; stroke: #ffffff; stroke-opacity: 0.3; stroke-linecap: round"/>
</g>
<g id="line2d_66"/>
<g id="text_39">
<text style="font-size: 10px; font-family: 'Liberation Sans', sans-serif; text-anchor: middle; fill: #262626" x="128.08" y="663.68" transform="rotate(-0 128.08 663.68)">5</text>
</g>
</g>
<g id="xtick_19">
<g id="line2d_67">
<path d="M 186.26 649.44 
L 186.26 375.84 
" clip-path="url(#p9e687ffb52)" style="fill: none; stroke: #ffffff; stroke-opacity: 0.3; stroke-linecap: round"/>
</g>
<g id="line2d_68"/>
<g id="text_40">
<text style="font-size: 10px; font-family: 'Liberation Sans', sans-serif; text-anchor: middle; fill: #262626" x="186.26" y="663.68" transform="rotate(-0 186.26 663.68)">10</text>
</g>
</g>
<g id="xtick_20">
<g id="line2d_69">
<path d="M 244.45 649.44 
L 244.45 375.84 
" clip-path="url(#p9e687ffb52)" style="fill: none; stroke: #ffffff; stroke-opacity: 0.3; stroke-linecap: round"/>
</g>
<g id="line2d_70"/>
<g id="text_41">
<text style="font-size: 10px; font-family: 'Liberation Sans', sans-serif; text-anchor: middle; fill: #262626" x="244.45" y="663.68" transform="rotate(-0 244.45 663.68)">15</text>
</g>
</g>
<g id="xtick_21">
<g id="line2d_71">
<path d="M 302.63 649.44 
L 302.63 375.84 
" clip-path="url(#p9e687ffb52)" style="fill: none; stroke: #ffffff; stroke-opacity: 0.3; stroke-linecap: round"/>
</g>
<g id="line2d_72"/>
<g id="text_42">
<text style="font-size: 10px; font-family: 'Liberation Sans', sans-serif; text-anchor: middle; fill: #262626" x="302.63" y="663.68" transform="rotate(-0 302.63 663.68)">20</text>
</g>
</g>
<g id="xtick_22">
<g id="line2d_73">
<path d="M 360.81 649.44 
L 360.81 375.84 
" clip-path="url(#p9e687ffb52)" style="fill: none; stroke: #ffffff; stroke-opacity: 0.3; stroke-linecap: round"/>
</g>
<g id="line2d_74"/>
<g id="text_43">
<text style="font-size: 10px; font-family: 'Liberation Sans', sans-serif; text-anchor: middle; fill: #262626" x="360.81" y="663.68" transform="rotate(-0 360.81 663.68)">25</text>
</g>
</g>
<g id="xtick_23">
<g id="line2d_75">
<path d="M 418.99 649.44 
L 418.99 375.84 
" clip-path="url(#p9e687ffb52)" style="fill: none; stroke: #ffffff; stroke-opacity: 0.3; stroke-linecap: round"/>
</g>
<g id="line2d_76"/>
<g id="text_44">
<text style="font-size: 10px; font-family: 'Liberation Sans', sans-serif; text-anchor: middle; fill: #262626" x="418.99" y="663.68" transform="rotate(-0 418.99 663.68)">30</text>
</g>
</g>
<g id="xtick_24">
<g id="line2d_77">
<path d="M 477.17 649.44 
L 477.17 375.84 
" clip-path="url(#p9e687ffb52)" style="fill: none; stroke: #ffffff; stroke-opacity: 0.3; stroke-linecap: round"/>
</g>
<g id="line2d_78"/>
<g id="text_45">
<text style="font-size: 10px; font-family: 'Liberation Sans', sans-serif; text-anchor: middle; fill: #262626" x="477.17" y="663.68" transform="rotate(-0 477.17 663.68)">35</text>
</g>
</g>
<g id="text_46">
<text style="font-size: 11px; font-family: 'Liberation Sans', sans-serif; text-anchor: middle; fill: #262626" x="279.36" y="677.73" transform="rotate(-0 279.36 677.73)">Epoch</text>
</g>
</g>
<g id="matplotlib.axis_6">
<g id="ytick_14">
<g id="line2d_79">
<path d="M 48.96 622.72 
L 509.76 622.72 
" clip-path="url(#p9e687ffb52)" style="fill: none; stroke: #ffffff; stroke-opacity: 0.3; stroke-linecap: round"/>
</g>
<g id="line2d_80"/>
<g id="text_47">
<text style="font-size: 10px; font-family: 'Liberation Sans', sans-serif; text-anchor: end; fill: #262626" x="41.96" y="626.34" transform="rotate(-0 41.96 626.34)">0.60</text>
</g>
</g>
<g id="ytick_15">
<g id="line2d_81">
<path d="M 48.96 570.59 
L 509.76 570.59 
" clip-path="url(#p9e687ffb52)" style="fill: none; stroke: #ffffff; stroke-opacity: 0.3; stroke-linecap: round"/>
</g>
<g id="line2d_82"/>
<g id="text_48">
<text style="font-size: 10px; font-family: 'Liberation Sans', sans-serif; text-anchor: end; fill: #262626" x="41.96" y="574.22" transform="rotate(-0 41.96 574.22)">0.65</text>
</g>
</g>
<g id="ytick_16">
<g id="line2d_83">
<path d="M 48.96 518.47 
L 509.76 518.47 
" clip-path="url(#p9e687ffb52)" style="fill: none; stroke: #ffffff; stroke-opacity: 0.3; stroke-linecap: round"/>
</g>
<g id="line2d_84"/>
<g id="text_49">
<text style="font-size: 10px; font-family: 'Liberation Sans', sans-serif; text-anchor: end; fill: #262626" x="41.96" y="522.10" transform="rotate(-0 41.96 522.10)">0.70</text>
</g>
</g>
<g id="ytick_17">
<g id="line2d_85">
<path d="M 48.96 466.35 
L 509.76 466.35 
" clip-path="url(#p9e687ffb52)" style="fill: none; stroke: #ffffff; stroke-opacity: 0.3; stroke-linecap: round"/>
</g>
<g id="line2d_86"/>
<g id="text_50">
<text style="font-size: 10px; font-family: 'Liberation Sans', sans-serif; text-anchor: end; fill: #262626" x="41.96" y="469.97" transform="rotate(-0 41.96 469.97)">0.75</text>
</g>
</g>
<g id="ytick_18">
<g id="line2d_87">
<path d="M 48.96 414.23 
L 509.76 414.23 
" clip-path="url(#p9e687ffb52)" style="fill: none; stroke: #ffffff; stroke-opacity: 0.3; stroke-linecap: round"/>
</g>
<g id="line2d_88"/>
<g id="text_51">
<text style="font-size: 10px; font-family: 'Liberation Sans', sans-serif; text-anchor: end; fill: #262626" x="41.96" y="417.85" transform="rotate(-0 41.96 417.85)">0.80</text>
</g>
</g>
<g id="text_52">
<text style="font-size: 11px; font-family: 'Liberation Sans', sans-serif; text-anchor: middle; fill: #262626" x="16.21" y="512.64" transform="rotate(-90 16.21 512.64)">R² Score</text>
</g>
</g>
<g id="line2d_89">
<path d="M 69.90 637.00 
L 81.54 532.23 
L 93.17 494.29 
L 104.81 465.10 
L 116.45 448.11 
L 128.08 437.47 
L 139.72 429.24 
L 151.36 416.73 
L 162.99 419.65 
L 174.63 408.29 
L 186.26 408.29 
L 197.90 406.20 
L 209.54 404.01 
L 221.17 395.26 
L 232.81 400.36 
L 244.45 392.65 
L 256.08 399.01 
L 267.72 395.26 
L 279.36 395.26 
L 290.99 399.95 
L 302.63 388.79 
L 314.26 394.32 
L 325.90 398.07 
L 337.54 395.05 
L 349.17 393.69 
L 360.81 396.40 
L 372.45 388.27 
L 384.08 390.36 
L 395.72 388.69 
L 407.36 392.44 
L 418.99 398.70 
L 430.63 397.44 
L 442.26 399.63 
L 453.90 394.32 
L 465.54 399.43 
L 477.17 400.26 
L 488.81 400.16 
" clip-path="url(#p9e687ffb52)" style="fill: none; stroke: #008000; stroke-width: 2; stroke-linecap: round"/>
</g>
<g id="patch_13">
<path d="M 48.96 649.44 
L 48.96 375.84 
" style="fill: none"/>
</g>
<g id="patch_14">
<path d="M 509.76 649.44 
L 509.76 375.84 
" style="fill: none"/>
</g>
<g id="patch_15">
<path d="M 48.96 649.44 
L 509.76 649.44 
" style="fill: none"/>
</g>
<g id="patch_16">
<path d="M 48.96 375.84 
L 509.76 375.84 
" style="fill: none"/>
</g>
<g id="text_53">
<text style="font-size: 12px; font-family: 'Liberation Sans', sans-serif; text-anchor: middle; fill: #262626" x="279.36" y="369.84" transform="rotate(-0 279.36 369.84)">Validation R² Score Over Time</text>
</g>
<g id="legend_3">
<g id="line2d_90">
<path d="M 57.96 389.98 
L 67.96 389.98 
L 77.96 389.98 
" style="fill: none; stroke: #008000; stroke-width: 2; stroke-linecap: round"/>
</g>
<g id="text_54">
<text style="font-size: 10px; font-family: 'Liberation Sans', sans-serif; text-anchor: start; fill: #262626" x="85.96" y="392.08" transform="rotate(-0 85.96 392.08)">Validation R²</text>
</g>
</g>
</g>
<g id="axes_4">
<g id="patch_17">
<path d="M 558.72 649.44 
L 1020.24 649.44 
L 1020.24 375.84 
L 558.72 375.84 
z
" style="fill: #eaeaf2"/>
</g>
<g id="matplotlib.axis_7">
<g id="xtick_25">
<g id="line2d_91">
<path d="M 579.69 649.44 
L 579.69 375.84 
" clip-path="url(#p2cd4935af7)" style="fill: none; stroke: #ffffff; stroke-opacity: 0.3; stroke-linecap: round"/>
</g>
<g id="line2d_92"/>
<g id="text_55">
<text style="font-size: 10px; font-family: 'Liberation Sans', sans-serif; text-anchor: middle; fill: #262626" x="579.69" y="663.68" transform="rotate(-0 579.69 663.68)">0</text>
</g>
</g>
<g id="xtick_26">
<g id="line2d_93">
<path d="M 637.97 649.44 
L 637.97 375.84 
" clip-path="url(#p2cd4935af7)" style="fill: none; stroke: #ffffff; stroke-opacity: 0.3; stroke-linecap: round"/>
</g>
<g id="line2d_94"/>
<g id="text_56">
<text style="font-size: 10px; font-family: 'Liberation Sans', sans-serif; text-anchor: middle; fill: #262626" x="637.97" y="663.68" transform="rotate(-0 637.97 663.68)">5</text>
</g>
</g>
<g id="xtick_27">
<g id="line2d_95">
<path d="M 696.24 649.44 
L 696.24 375.84 
" clip-path="url(#p2cd4935af7)" style="fill: none; stroke: #ffffff; stroke-opacity: 0.3; stroke-linecap: round"/>
</g>
<g id="line2d_96"/>
<g id="text_57">
<text style="font-size: 10px; font-family: 'Liberation Sans', sans-serif; text-anchor: middle; fill: #262626" x="696.24" y="663.68" transform="rotate(-0 696.24 663.68)">10</text>
</g>
</g>
<g id="xtick_28">
<g id="line2d_97">
<path d="M 754.51 649.44 
L 754.51 375.84 
" clip-path="url(#p2cd4935af7)" style="fill: none; stroke: #ffffff; stroke-opacity: 0.3; stroke-linecap: round"/>
</g>
<g id="line2d_98"/>
<g id="text_58">
<text style="font-size: 10px; font-family: 'Liberation Sans', sans-serif; text-anchor: middle; fill: #262626" x="754.51" y="663.68" transform="rotate(-0 754.51 663.68)">15</text>
</g>
</g>
<g id="xtick_29">
<g id="line2d_99">
<path d="M 812.78 649.44 
L 812.78 375.84 
" clip-path="url(#p2cd4935af7)" style="fill: none; stroke: #ffffff; stroke-opacity: 0.3; stroke-linecap: round"/>
</g>
<g id="line2d_100"/>
<g id="text_59">
<text style="font-size: 10px; font-family: 'Liberation Sans', sans-serif; text-anchor: middle; fill: #262626" x="812.78" y="663.68" transform="rotate(-0 812.78 663.68)">20</text>
</g>
</g>
<g id="xtick_30">
<g id="line2d_101">
<path d="M 871.06 649.44 
L 871.06 375.84 
" clip-path="url(#p2cd4935af7)" style="fill: none; stroke: #ffffff; stroke-opacity: 0.3; stroke-linecap: round"/>
</g>
<g id="line2d_102"/>
<g id="text_60">
<text style="font-size: 10px; font-family: 'Liberation Sans', sans-serif; text-anchor: middle; fill: #262626" x="871.06" y="663.68" transform="rotate(-0 871.06 663.68)">25</text>
</g>
</g>
<g id="xtick_31">
<g id="line2d_103">
<path d="M 929.33 649.44 
L 929.33 375.84 
" clip-path="url(#p2cd4935af7)" style="fill: none; stroke: #ffffff; stroke-opacity: 0.3; stroke-linecap: round"/>
</g>
<g id="line2d_104"/>
<g id="text_61">
<text style="font-size: 10px; font-family: 'Liberation Sans', sans-serif; text-anchor: middle; fill: #262626" x="929.33" y="663.68" transform="rotate(-0 929.33 663.68)">30</text>
</g>
</g>
<g id="xtick_32">
<g id="line2d_105">
<path d="M 987.60 649.44 
L 987.60 375.84 
" clip-path="url(#p2cd4935af7)" style="fill: none; stroke: #ffffff; stroke-opacity: 0.3; stroke-linecap: round"/>
</g>
<g id="line2d_106"/>
<g id="text_62">
<text style="font-size: 10px; font-family: 'Liberation Sans', sans-serif; text-anchor: middle; fill: #262626" x="987.60" y="663.68" transform="rotate(-0 987.60 663.68)">35</text>
</g>
</g>
<g id="text_63">
<text style="font-size: 11px; font-family: 'Liberation Sans', sans-serif; text-anchor: middle; fill: #262626" x="789.48" y="677.73" transform="rotate(-0 789.48 677.73)">Epoch</text>
</g>
</g>
<g id="matplotlib.axis_8">
<g id="ytick_19">
<g id="line2d_107">
<path d="M 558.72 628.87 
L 1020.24 628.87 
" clip-path="url(#p2cd4935af7)" style="fill: none; stroke: #ffffff; stroke-opacity: 0.3; stroke-linecap: round"/>
</g>
<g id="line2d_108"/>
<g id="text_64">
<text style="font-size: 10px; font-family: 'Liberation Sans', sans-serif; text-anchor: end; fill: #262626" x="551.72" y="632.50" transform="rotate(-0 551.72 632.50)">0.30</text>
</g>
</g>
<g id="ytick_20">
<g id="line2d_109">
<path d="M 558.72 570.84 
L 1020.24 570.84 
" clip-path="url(#p2cd4935af7)" style="fill: none; stroke: #ffffff; stroke-opacity: 0.3; stroke-linecap: round"/>
</g>
<g id="line2d_110"/>
<g id="text_65">
<text style="font-size: 10px; font-family: 'Liberation Sans', sans-serif; text-anchor: end; fill: #262626" x="551.72" y="574.47" transform="rotate(-0 551.72 574.47)">0.35</text>
</g>
</g>
<g id="ytick_21">
<g id="line2d_111">
<path d="M 558.72 512.81 
L 1020.24 512.81 
" clip-path="url(#p2cd4935af7)" style="fill: none; stroke: #ffffff; stroke-opacity: 0.3; stroke-linecap: round"/>
</g>
<g id="line2d_112"/>
<g id="text_66">
<text style="font-size: 10px; font-family: 'Liberation Sans', sans-serif; text-anchor: end; fill: #262626" x="551.72" y="516.43" transform="rotate(-0 551.72 516.43)">0.40</text>
</g>
</g>
<g id="ytick_22">
<g id="line2d_113">
<path d="M 558.72 454.78 
L 1020.24 454.78 
" clip-path="url(#p2cd4935af7)" style="fill: none; stroke: #ffffff; stroke-opacity: 0.3; stroke-linecap: round"/>
</g>
<g id="line2d_114"/>
<g id="text_67">
<text style="font-size: 10px; font-family: 'Liberation Sans', sans-serif; text-anchor: end; fill: #262626" x="551.72" y="458.40" transform="rotate(-0 551.72 458.40)">0.45</text>
</g>
</g>
<g id="ytick_23">
<g id="line2d_115">
<path d="M 558.72 396.74 
L 1020.24 396.74 
" clip-path="url(#p2cd4935af7)" style="fill: none; stroke: #ffffff; stroke-opacity: 0.3; stroke-linecap: round"/>
</g>
<g id="line2d_116"/>
<g id="text_68">
<text style="font-size: 10px; font-family: 'Liberation Sans', sans-serif; text-anchor: end; fill: #262626" x="551.72" y="400.37" transform="rotate(-0 551.72 400.37)">0.50</text>
</g>
</g>
<g id="text_69">
<text style="font-size: 11px; font-family: 'Liberation Sans', sans-serif; text-anchor: middle; fill: #262626" x="525.97" y="512.64" transform="rotate(-90 525.97 512.64)">MAE</text>
</g>
</g>
<g id="line2d_117">
<path d="M 579.69 388.27 
L 591.35 464.29 
L 603.00 496.68 
L 614.66 529.87 
L 626.31 557.73 
L 637.97 565.97 
L 649.62 568.87 
L 661.28 583.26 
L 672.93 586.16 
L 684.58 601.02 
L 696.24 601.83 
L 707.89 602.64 
L 719.55 589.53 
L 731.20 613.79 
L 742.86 607.63 
L 754.51 621.91 
L 766.17 613.21 
L 777.82 617.38 
L 789.48 618.31 
L 801.13 616.11 
L 812.78 630.85 
L 824.44 626.67 
L 836.09 624.81 
L 847.75 618.31 
L 859.40 624.35 
L 871.06 616.11 
L 882.71 627.71 
L 894.37 635.03 
L 906.02 637.00 
L 917.68 629.69 
L 929.33 625.39 
L 940.98 625.39 
L 952.64 625.62 
L 964.29 635.72 
L 975.95 627.95 
L 987.60 627.37 
L 999.26 627.95 
" clip-path="url(#p2cd4935af7)" style="fill: none; stroke: #ffa500; stroke-width: 2; stroke-linecap: round"/>
</g>
<g id="patch_18">
<path d="M 558.72 649.44 
L 558.72 375.84 
" style="fill: none"/>
</g>
<g id="patch_19">
<path d="M 1020.24 649.44 
L 1020.24 375.84 
" style="fill: none"/>
</g>
<g id="patch_20">
<path d="M 558.72 649.44 
L 1020.24 649.44 
" style="fill: none"/>
</g>
<g id="patch_21">
<path d="M 558.72 375.84 
L 1020.24 375.84 
" style="fill: none"/>
</g>
<g id="text_70">
<text style="font-size: 12px; font-family: 'Liberation Sans', sans-serif; text-anchor: middle; fill: #262626" x="789.48" y="369.84" transform="rotate(-0 789.48 369.84)">Validation MAE Over Time</text>
</g>
<g id="legend_4">
<g id="line2d_118">
<path d="M 915.61 389.98 
L 925.61 389.98 
L 935.61 389.98 
" style="fill: none; stroke: #ffa500; stroke-width: 2; stroke-linecap: round"/>
</g>
<g id="text_71">
<text style="font-size: 10px; font-family: 'Liberation Sans', sans-serif; text-anchor: start; fill: #262626" x="943.61" y="392.08" transform="rotate(-0 943.61 392.08)">Validation MAE</text>
</g>
</g>
</g>
<g id="text_72">
<text style="font-weight: 700; font-size: 16px; font-family: 'Liberation Sans', sans-serif; text-anchor: middle; fill: #262626" x="514.8" y="25.39" transform="rotate(-0 514.8 25.39)">Training Progress &amp; Model Performance</text>
</g>
</g>
<defs>
<clipPath id="p905140722b">
<rect x="48.96" y="48.24" width="460.8" height="273.6"/>
</clipPath>
<clipPath id="p9155a7c2ba">
<rect x="558.72" y="48.24" width="461.52" height="273.6"/>
</clipPath>
<clipPath id="p9e687ffb52">
<rect x="48.96" y="375.84" width="460.8" height="273.6"/>
</clipPath>
<clipPath id="p2cd4935af7">
<rect x="558.72" y="375.84" width="461.52" height="273.6"/>
</clipPath>
</defs>
</svg>
</div>
<div class="abs" style="left:486px;top:989px;width:1430px;height:42px;background:#f0f0f0"></div>
<div class="abs" style="left:1918px;top:720px;width:1px;height:6px;background:#e53935"></div>
<div class="abs" style="left:1918px;top:743px;width:1px;height:6px;background:#e53935"></div>
<svg class="ic" style="left:491px;top:1003px" width="22" height="18" viewBox="0 0 22 21" preserveAspectRatio="none"><path d="M1.2 9.5 L11 1.5 L20.8 9.5" fill="none" stroke="#111" stroke-width="2.2" stroke-linejoin="miter"/><path d="M15.5 2.5 H18 V7" fill="#111" stroke="#111" stroke-width="1.5"/><path d="M4 10 L11 4.3 L18 10 V19 H13 V14 H9 V19 H4 Z" fill="#111"/></svg>
<svg width="0" height="0" style="position:absolute"><defs><pattern id="dith" width="2" height="2" patternUnits="userSpaceOnUse"><rect width="1" height="1" fill="#222"/><rect x="1" y="1" width="1" height="1" fill="#222"/></pattern></defs></svg>
<svg class="ic" style="left:520px;top:999.5px" width="21" height="23" viewBox="0 0 21 22" preserveAspectRatio="none"><path d="M0.5 11 L10 1.5 L13 4.5 L8.5 9 H20.5 V13 H8.5 L13 17.5 L10 20.5 Z" fill="url(#dith)"/></svg>
<svg class="ic" style="left:547px;top:999.5px" width="21" height="23" viewBox="0 0 21 22" preserveAspectRatio="none"><path d="M20.5 11 L11 1.5 L8 4.5 L12.5 9 H0.5 V13 H12.5 L8 17.5 L11 20.5 Z" fill="url(#dith)"/></svg>
<div class="abs" style="left:576px;top:999px;width:1px;height:23px;background:#8a8a8a"></div>
<svg class="ic" style="left:584px;top:999px" width="23" height="24" viewBox="0 0 23 24"><path d="M11.5 0.5 L15.5 5 H13 V10.5 H18.5 V8 L22.5 12 L18.5 16 V13.5 H13 V19 H15.5 L11.5 23.5 L7.5 19 H10 V13.5 H4.5 V16 L0.5 12 L4.5 8 V10.5 H10 V5 H7.5 Z" fill="#111"/></svg>
<svg class="ic" style="left:615px;top:1000px" width="22" height="22" viewBox="0 0 22 22"><circle cx="9" cy="9" r="6.8" fill="none" stroke="#111" stroke-width="2.6"/><path d="M14 14 L20 20" stroke="#111" stroke-width="3" stroke-linecap="round"/></svg>
<svg class="ic" style="left:645px;top:1002px" width="20" height="18" viewBox="0 0 20 18"><path d="M0 2.5 H20 M0 9 H20 M0 15.5 H20" stroke="#111" stroke-width="1.3"/><rect x="4.5" y="0" width="4" height="5" fill="#111"/><rect x="12" y="6.5" width="4" height="5" fill="#111"/><rect x="6" y="13" width="4" height="5" fill="#111"/></svg>
<div class="abs" style="left:673px;top:999px;width:1px;height:23px;background:#8a8a8a"></div>
<svg class="ic" style="left:682px;top:1001px" width="20" height="20" viewBox="0 0 20 20"><path d="M1 2 Q1 1 2 1 H15 L19 5 V18 Q19 19 18 19 H2 Q1 19 1 18 Z" fill="none" stroke="#111" stroke-width="2"/><rect x="5" y="1" width="9" height="5.5" fill="none" stroke="#111" stroke-width="1.6"/><rect x="10" y="2" width="2.4" height="3.5" fill="#111"/><rect x="4.5" y="11" width="11" height="8" fill="none" stroke="#111" stroke-width="1.6"/></svg>
</body></html>
